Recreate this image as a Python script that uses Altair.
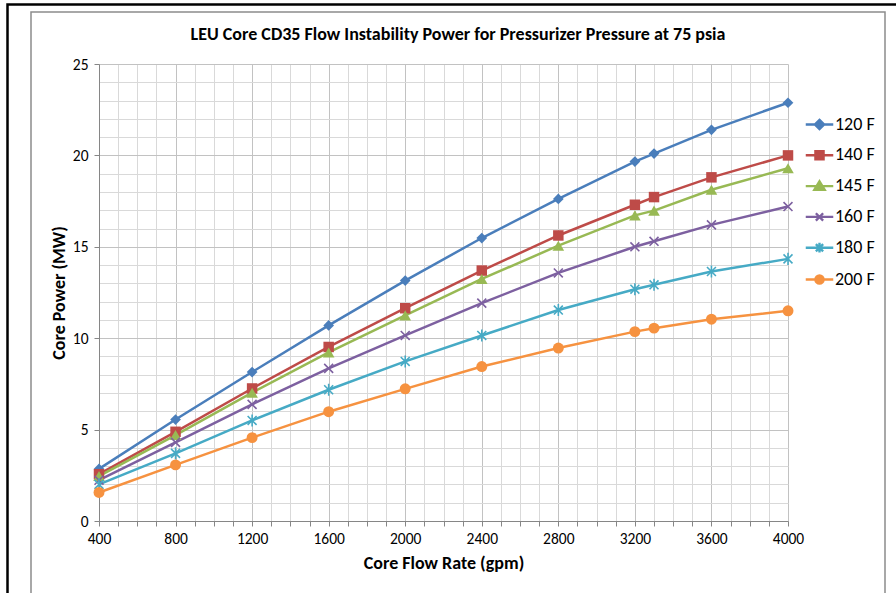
import altair as alt
import pandas as pd

TITLE = "LEU Core CD35 Flow Instability Power for Pressurizer Pressure at 75 psia"
X_TITLE = "Core Flow Rate (gpm)"
Y_TITLE = "Core Power (MW)"

FLOW = [400, 800, 1200, 1600, 2000, 2400, 2800, 3200, 3300, 3600, 4000]
SERIES = ["120 F", "140 F", "145 F", "160 F", "180 F", "200 F"]
P_120 = [2.85, 5.55, 8.15, 10.7, 13.15, 15.48, 17.62, 19.66, 20.1, 21.4, 22.88]
P_140 = [2.56, 4.88, 7.25, 9.52, 11.64, 13.7, 15.62, 17.3, 17.72, 18.8, 20.0]
P_145 = [2.46, 4.7, 7.02, 9.22, 11.25, 13.24, 15.06, 16.72, 16.98, 18.12, 19.3]
P_160 = [2.23, 4.3, 6.38, 8.35, 10.15, 11.92, 13.57, 15.0, 15.3, 16.2, 17.2]
P_180 = [2.0, 3.7, 5.5, 7.18, 8.73, 10.15, 11.54, 12.68, 12.92, 13.65, 14.34]
P_200 = [1.56, 3.07, 4.56, 5.98, 7.23, 8.45, 9.46, 10.36, 10.55, 11.04, 11.5]
POWER = [P_120, P_140, P_145, P_160, P_180, P_200]

X_TICKS = list(range(400, 4001, 100))
Y_TICKS = list(range(0, 26, 1))

COLORS = ["#4A7EBB", "#BE4B48", "#98B954", "#7D60A0", "#46AAC5", "#F69240"]
MARKERS = [
    ("diamond", True, 115),
    ("square", True, 110),
    ("triangle-up", True, 135),
    ("M-1,-1L1,1M-1,1L1,-1", False, 80),
    ("M-1,-1L1,1M-1,1L1,-1M0,-1.35V1.35", False, 80),
    ("circle", True, 120),
]
LEGEND_PATHS = [
    "M-1.25,0H1.25M0,-0.42L0.42,0L0,0.42L-0.42,0Z",
    "M-1.25,0H1.25M-0.37,-0.37H0.37V0.37H-0.37Z",
    "M-1.25,0H1.25M0,-0.44L0.47,0.34H-0.47Z",
    "M-1.25,0H1.25M-0.33,-0.33L0.33,0.33M-0.33,0.33L0.33,-0.33",
    "M-1.25,0H1.25M-0.33,-0.33L0.33,0.33M-0.33,0.33L0.33,-0.33M0,-0.44V0.44",
    "M-1.25,0H1.25M0.37,0A0.37,0.37,0,1,1,-0.37,0A0.37,0.37,0,1,1,0.37,0Z",
]

FONT = "Carlito, Lato, sans-serif"

rows = []
for s, vals in zip(SERIES, POWER):
    for f, v in zip(FLOW, vals):
        rows.append({"series": s, "flow": f, "power": v})
df = pd.DataFrame(rows)

x_enc = alt.X(
    "flow:Q",
    scale=alt.Scale(domain=[400, 4000], nice=False, zero=False),
    axis=alt.Axis(
        title=X_TITLE,
        values=X_TICKS,
        format="d",
        labelExpr="datum.value % 400 == 0 ? datum.label : ''",
        labelOverlap=False,
        labelFlush=False,
        labelFont=FONT,
        labelFontSize=15.5,
        labelColor="#000000",
        labelPadding=5,
        tickSize=5,
        tickColor="#868686",
        domainColor="#868686",
        grid=True,
        gridColor={"condition": {"test": "datum.value % 400 == 0", "value": "#C2C2C2"}, "value": "#D9D9D9"},
        gridWidth=1,
        titleFont=FONT,
        titleFontSize=18,
        titleFontWeight="bold",
        titleColor="#000000",
        titlePadding=8,
    ),
)
y_enc = alt.Y(
    "power:Q",
    scale=alt.Scale(domain=[0, 25], nice=False),
    axis=alt.Axis(
        title=Y_TITLE,
        values=Y_TICKS,
        format="d",
        labelExpr="datum.value % 5 == 0 ? datum.label : ''",
        labelOverlap=False,
        labelFlush=False,
        labelFont=FONT,
        labelFontSize=15.5,
        labelColor="#000000",
        labelPadding=6,
        tickSize=5,
        tickColor={"condition": {"test": "datum.value % 5 == 0", "value": "#868686"}, "value": "transparent"},
        domainColor="#868686",
        grid=True,
        gridColor={"condition": {"test": "datum.value % 5 == 0", "value": "#C2C2C2"}, "value": "#D9D9D9"},
        gridWidth=1,
        titleFont=FONT,
        titleFontSize=18,
        titleFontWeight="bold",
        titleColor="#000000",
        titlePadding=4,
    ),
)
color_nolegend = alt.Color("series:N", scale=alt.Scale(domain=SERIES, range=COLORS), legend=None)

base = alt.Chart(df)

frame_df = pd.DataFrame({"k": [0]})
outer = alt.Chart(frame_df).mark_rect(
    fill="white", fillOpacity=0, stroke="#000000", strokeWidth=2.5
).encode(x=alt.value(-91.5), x2=alt.value(830), y=alt.value(-59.5), y2=alt.value(560))
inner = alt.Chart(frame_df).mark_rect(
    fill="white", fillOpacity=0, stroke="#8C8C8C", strokeWidth=1.5
).encode(x=alt.value(-68), x2=alt.value(786), y=alt.value(-52), y2=alt.value(560))
title_text = alt.Chart(frame_df).mark_text(
    text=TITLE,
    font=FONT,
    fontSize=18,
    fontWeight="bold",
    color="#000000",
    align="center",
    baseline="middle",
).encode(x=alt.value(359), y=alt.value(-29))

LEG = alt.Legend(
    title=None,
    orient="none",
    legendX=708,
    legendY=48,
    padding=0,
    symbolSize=484,
    symbolStrokeWidth=2.4,
    symbolOpacity=1,
    labelFont=FONT,
    labelFontSize=18,
    labelColor="#000000",
    labelOffset=3,
    rowPadding=8.8,
)
legend_layer = base.mark_point(filled=True, opacity=0).encode(
    x=x_enc,
    y=y_enc,
    color=alt.Color("series:N", scale=alt.Scale(domain=SERIES, range=COLORS), legend=LEG),
    stroke=alt.Stroke("series:N", scale=alt.Scale(domain=SERIES, range=COLORS), legend=LEG),
    shape=alt.Shape("series:N", scale=alt.Scale(domain=SERIES, range=LEGEND_PATHS), legend=LEG),
)

lines = base.mark_line(strokeWidth=2.5).encode(
    x=x_enc, y=y_enc, color=color_nolegend, order="flow:Q"
)

point_layers = []
for s, (shape, filled, size) in zip(SERIES, MARKERS):
    point_layers.append(
        base.transform_filter(alt.datum.series == s)
        .mark_point(shape=shape, filled=filled, size=size, strokeWidth=1.6, opacity=1)
        .encode(x=x_enc, y=y_enc, color=color_nolegend)
    )

chart = (
    alt.layer(outer, inner, title_text, legend_layer, lines, *point_layers)
    .properties(
        width=689,
        height=457,
        padding={"left": 99, "top": 64, "right": 108, "bottom": 72},
        autosize=alt.AutoSizeParams(type="none"),
        background="white",
    )
    .configure_view(stroke="transparent")
)

chart.save("out.html", embed_options={"renderer": "svg", "actions": False})
